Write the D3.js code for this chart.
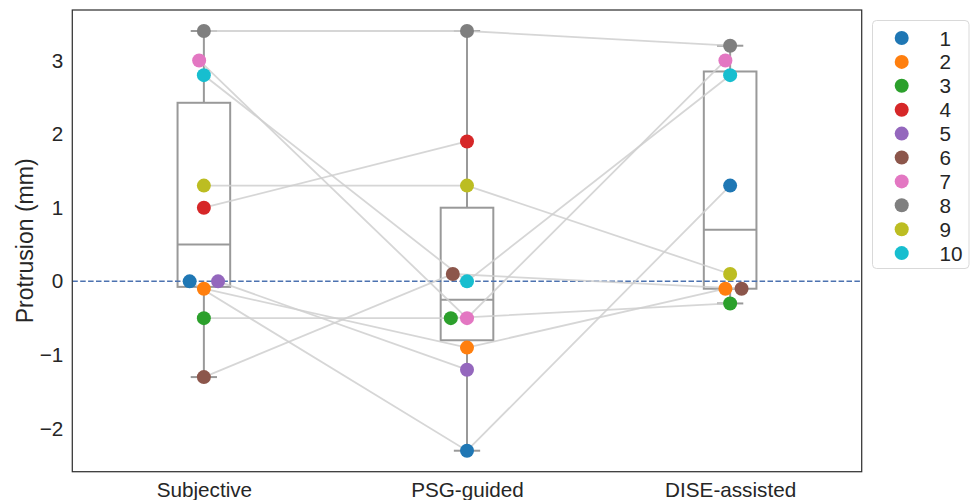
<!DOCTYPE html>
<html>
<head>
<meta charset="utf-8">
<script src="https://cdn.jsdelivr.net/npm/d3@7"></script>
<style>
  html, body { margin: 0; padding: 0; background: #fff; }
  svg { display: block; font-family: "Liberation Sans", Arial, sans-serif; }
</style>
</head>
<body>
<svg id="chart" width="972" height="500"></svg>
<script>
// ---------------- data ----------------
const categories = ["Subjective", "PSG-guided", "DISE-assisted"];
const subjects = ["1", "2", "3", "4", "5", "6", "7", "8", "9", "10"];
const subjective   = [0.0, -0.1, -0.5, 1.0, 0.0, -1.3, 3.0, 3.4, 1.3, 2.8];
const psgGuided    = [-2.3, -0.9, -0.5, 1.9, -1.2, 0.1, -0.5, 3.4, 1.3, 0.0];
const diseAssisted = [1.3, -0.1, -0.3, null, null, -0.1, 3.0, 3.2, 0.1, 2.8];
// row order of the source table (decides which tied point stays centred in the swarm)
const rowOrder = ["1", "2", "7", "3", "4", "5", "6", "8", "9", "10"];
const yTicks = [-2, -1, 0, 1, 2, 3];
const palette = d3.schemeCategory10;

const seriesByCategory = [subjective, psgGuided, diseAssisted];

// ---------------- layout ----------------
const svg = d3.select("#chart");
const plot = { left: 72.3, right: 861.7, top: 10, bottom: 471.7 };
const textColor = "#262626";
const tickFont = 20.7;

const allVals = seriesByCategory.flat().filter(v => v != null);
const vmin = d3.min(allVals), vmax = d3.max(allVals);
const pad = (vmax - vmin) * 0.05;

const x = d3.scalePoint().domain(categories).range([plot.left, plot.right]).padding(0.5);
const step = x.step();
const y = d3.scaleLinear().domain([vmin - pad, vmax + pad]).range([plot.bottom, plot.top]);
const color = d3.scaleOrdinal().domain(subjects).range(palette);

// ---------------- swarm positions (seaborn-like beeswarm) ----------------
const rCollide = 7.7;
const positions = {};
subjects.forEach(s => positions[s] = []);

categories.forEach((cat, ci) => {
  const vals = seriesByCategory[ci];
  const x0 = x(cat);
  let pts = rowOrder
    .map(s => ({ s, v: vals[subjects.indexOf(s)] }))
    .filter(d => d.v != null)
    .map(d => ({ s: d.s, v: d.v, x: x0, yd: -y(d.v) }));
  pts.sort((a, b) => a.yd - b.yd);
  const swarm = [];
  pts.forEach((p, i) => {
    if (i === 0) { swarm.push({ ...p }); return; }
    const neighbors = [];
    for (let j = swarm.length - 1; j >= 0; j--) {
      if ((p.yd - swarm[j].yd) < 2 * rCollide) neighbors.push(swarm[j]);
      else break;
    }
    const cands = [{ x: x0 }];
    let leftFirst = true;
    neighbors.forEach(n => {
      const dy = p.yd - n.yd;
      const dx = Math.sqrt(Math.max((2 * rCollide) ** 2 - dy * dy, 0)) * 1.05;
      const cl = { x: n.x - dx }, cr = { x: n.x + dx };
      if (leftFirst) cands.push(cl, cr); else cands.push(cr, cl);
      leftFirst = !leftFirst;
    });
    const sorted = cands.map((c, k) => ({ c, k, off: Math.abs(c.x - x0) }))
      .sort((a, b) => a.off - b.off || a.k - b.k).map(d => d.c);
    let chosen = sorted[sorted.length - 1];
    for (const c of sorted) {
      const ok = neighbors.every(n => ((n.x - c.x) ** 2 + (n.yd - p.yd) ** 2) >= (2 * rCollide) ** 2);
      if (ok) { chosen = c; break; }
    }
    swarm.push({ ...p, x: chosen.x });
  });
  swarm.forEach(p => { positions[p.s][ci] = { x: p.x, y: -p.yd, v: p.v }; });
});

// ---------------- box plots ----------------
const boxColor = "#999999";
const boxW = step * 0.2;
const gBox = svg.append("g");
categories.forEach((cat, ci) => {
  const vals = seriesByCategory[ci].filter(v => v != null).sort(d3.ascending);
  const q1 = d3.quantile(vals, 0.25), med = d3.quantile(vals, 0.5), q3 = d3.quantile(vals, 0.75);
  const iqr = q3 - q1;
  const lo = d3.min(vals.filter(v => v >= q1 - 1.5 * iqr));
  const hi = d3.max(vals.filter(v => v <= q3 + 1.5 * iqr));
  const cx = x(cat);
  const g = gBox.append("g").attr("stroke", boxColor).attr("stroke-width", 2).attr("fill", "none");
  g.append("line").attr("x1", cx).attr("x2", cx).attr("y1", y(q3)).attr("y2", y(hi));
  g.append("line").attr("x1", cx).attr("x2", cx).attr("y1", y(q1)).attr("y2", y(lo));
  g.append("line").attr("x1", cx - boxW / 4).attr("x2", cx + boxW / 4).attr("y1", y(hi)).attr("y2", y(hi));
  g.append("line").attr("x1", cx - boxW / 4).attr("x2", cx + boxW / 4).attr("y1", y(lo)).attr("y2", y(lo));
  g.append("rect").attr("x", cx - boxW / 2).attr("y", y(q3)).attr("width", boxW).attr("height", y(q1) - y(q3));
  g.append("line").attr("x1", cx - boxW / 2).attr("x2", cx + boxW / 2).attr("y1", y(med)).attr("y2", y(med));
});

// ---------------- zero reference ----------------
svg.append("line")
  .attr("x1", plot.left).attr("x2", plot.right)
  .attr("y1", y(0)).attr("y2", y(0))
  .attr("stroke", "#4c72b0").attr("stroke-width", 1.5)
  .attr("stroke-dasharray", "5.5,2.4");

// ---------------- connecting lines ----------------
const lineGen = d3.line()
  .defined(d => d != null)
  .x(d => d.x).y(d => d.y);
const gLines = svg.append("g");
subjects.forEach(s => {
  const arr = categories.map((c, ci) => positions[s][ci] || null);
  gLines.append("path")
    .attr("d", lineGen(arr))
    .attr("fill", "none")
    .attr("stroke", "#cfcfcf")
    .attr("stroke-opacity", 0.85)
    .attr("stroke-width", 1.8);
});

// ---------------- points ----------------
const gPts = svg.append("g");
categories.forEach((cat, ci) => {
  subjects.forEach(s => {
    const p = positions[s][ci];
    if (!p) return;
    gPts.append("circle")
      .attr("cx", p.x).attr("cy", p.y).attr("r", 7)
      .attr("fill", color(s));
  });
});

// ---------------- frame & axes ----------------
svg.append("rect")
  .attr("x", plot.left).attr("y", plot.top)
  .attr("width", plot.right - plot.left).attr("height", plot.bottom - plot.top)
  .attr("fill", "none").attr("stroke", "#333333").attr("stroke-width", 1.25);

const yAxis = d3.axisLeft(y).tickValues(yTicks).tickSize(0).tickPadding(9)
  .tickFormat(d => d < 0 ? "\u2212" + Math.abs(d) : String(d));
const gy = svg.append("g").attr("transform", `translate(${plot.left},0)`).call(yAxis);
gy.select(".domain").remove();
gy.selectAll("text").attr("font-size", tickFont).attr("fill", textColor)
  .attr("font-family", "'Liberation Sans', Arial, sans-serif");

const xAxis = d3.axisBottom(x).tickSize(0).tickPadding(11);
const gx = svg.append("g").attr("transform", `translate(0,${plot.bottom})`).call(xAxis);
gx.select(".domain").remove();
gx.selectAll("text").attr("font-size", tickFont).attr("fill", textColor)
  .attr("font-family", "'Liberation Sans', Arial, sans-serif");

svg.append("text")
  .attr("transform", `translate(25,${(plot.top + plot.bottom) / 2}) rotate(-90)`)
  .attr("text-anchor", "middle").attr("dominant-baseline", "central")
  .attr("font-size", 23).attr("fill", textColor)
  .text("Protrusion (mm)");

// ---------------- legend ----------------
const lg = svg.append("g");
lg.append("rect")
  .attr("x", 872.5).attr("y", 20.5).attr("width", 96.5).attr("height", 248)
  .attr("rx", 4).attr("fill", "#fff").attr("stroke", "#d9d9d9").attr("stroke-width", 1);
subjects.forEach((s, i) => {
  const cy = 38 + i * 23.9;
  lg.append("circle").attr("cx", 901.7).attr("cy", cy).attr("r", 7).attr("fill", color(s));
  lg.append("text").attr("x", 939.5).attr("y", cy).attr("dominant-baseline", "central")
    .attr("font-size", tickFont).attr("fill", textColor).text(s);
});
</script>
</body>
</html>
